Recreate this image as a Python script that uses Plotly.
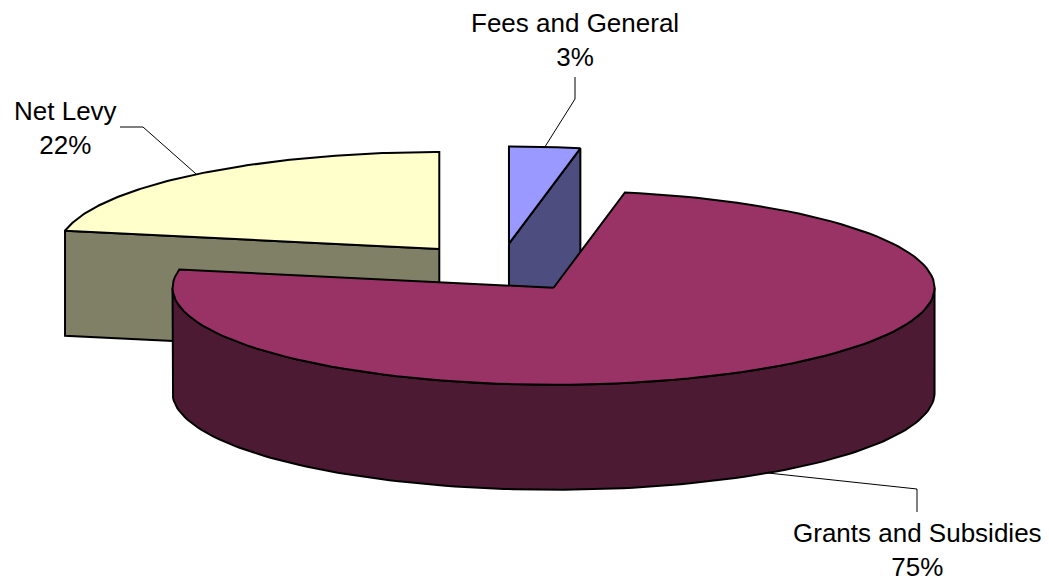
import math
import plotly.graph_objects as go

# Revenue split, clockwise from 12 o'clock
categories = ["Fees and General", "Grants and Subsidies", "Net Levy"]
percent = [3, 75, 22]
percent_labels = ["3%", "75%", "22%"]

top_colors = ["#9999FF", "#993366", "#FFFFCC"]
side_colors = ["#4D4D80", "#4D1A33", "#808066"]

W, H = 1049, 582
CX, CY = 500.0, 267.7      # pie centre (screen px)
RX, RY = 381.0, 97.0       # ellipse radii of the tilted disc
DEPTH = 105.0              # thickness of the disc
EXPLODE = 0.25             # radial offset of every slice, fraction of radius
FONT = dict(family="Liberation Sans, Arial, sans-serif", size=26, color="black")

# label placement and leader elbows (x, y centre of label; elbow points)
label_pos = {
    "Fees and General": dict(x=575, y=40, elbow=[(575, 77), (575, 99)]),
    "Grants and Subsidies": dict(x=917, y=550, elbow=[(917, 512), (917, 489)]),
    "Net Levy": dict(x=65, y=128, elbow=[(120, 127), (143, 127)]),
}


def rim(cx, cy, ang, dz=0.0):
    a = math.radians(ang)
    return cx + RX * math.sin(a), cy - RY * math.cos(a) + dz


def arc(cx, cy, a0, a1, dz=0.0, n=120):
    pts = []
    for i in range(n + 1):
        pts.append(rim(cx, cy, a0 + (a1 - a0) * i / n, dz))
    return pts


def poly_trace(pts, fill, width=2):
    xs = [p[0] for p in pts] + [pts[0][0]]
    ys = [p[1] for p in pts] + [pts[0][1]]
    return go.Scatter(x=xs, y=ys, mode="lines", fill="toself", fillcolor=fill,
                      line=dict(color="black", width=width), hoverinfo="skip",
                      showlegend=False)


total = sum(percent)
slices = []
start = 0.0
for name, pct, tc, sc, lab in zip(categories, percent, top_colors, side_colors, percent_labels):
    span = pct / total * 360.0
    end = start + span
    mid = (start + end) / 2
    m = math.radians(mid)
    ax = CX + EXPLODE * RX * math.sin(m)
    ay = CY - EXPLODE * RY * math.cos(m)
    slices.append(dict(name=name, start=start, end=end, mid=mid, ax=ax, ay=ay,
                       top=tc, side=sc, lab=lab))
    start = end

fig = go.Figure()

# paint back-to-front: slices further back (larger cos of bisector) first
for s in sorted(slices, key=lambda s: -math.cos(math.radians(s["mid"]))):
    ax, ay = s["ax"], s["ay"]
    a0, a1 = s["start"], s["end"]
    eps = 1e-9
    # radial face at the start edge, seen when it faces the viewer
    if math.sin(math.radians(a0)) < -eps:
        p = rim(ax, ay, a0)
        fig.add_trace(poly_trace([(ax, ay), p, (p[0], p[1] + DEPTH), (ax, ay + DEPTH)], s["side"]))
    # radial face at the end edge
    if math.sin(math.radians(a1)) > eps:
        p = rim(ax, ay, a1)
        fig.add_trace(poly_trace([(ax, ay), p, (p[0], p[1] + DEPTH), (ax, ay + DEPTH)], s["side"]))
    # curved outer wall on the front half (90..270 deg)
    lo, hi = max(a0, 90.0), min(a1, 270.0)
    if hi > lo:
        top_arc = arc(ax, ay, lo, hi)
        bot_arc = arc(ax, ay, hi, lo, DEPTH)
        fig.add_trace(poly_trace(top_arc + bot_arc, s["side"]))
    # top face
    fig.add_trace(poly_trace([(ax, ay)] + arc(ax, ay, a0, a1), s["top"]))

# leader lines and labels
for s in slices:
    lp = label_pos[s["name"]]
    mid = s["mid"]
    dz = DEPTH if 90 < mid < 270 else 0.0
    tip = rim(s["ax"], s["ay"], mid, dz)
    pts = lp["elbow"] + [tip]
    fig.add_trace(go.Scatter(x=[p[0] for p in pts], y=[p[1] for p in pts], mode="lines",
                             line=dict(color="black", width=1), hoverinfo="skip",
                             showlegend=False))
    fig.add_annotation(x=lp["x"], y=lp["y"], xref="x", yref="y",
                       text=f"{s['name']}<br>{s['lab']}", showarrow=False,
                       xanchor="center", yanchor="middle", align="center", font=FONT)

fig.update_layout(
    width=W, height=H,
    margin=dict(l=0, r=0, t=0, b=0),
    paper_bgcolor="white", plot_bgcolor="white",
    xaxis=dict(range=[0, W], visible=False, fixedrange=True),
    yaxis=dict(range=[H, 0], visible=False, fixedrange=True),
    showlegend=False,
)

fig.write_html("out.html")
